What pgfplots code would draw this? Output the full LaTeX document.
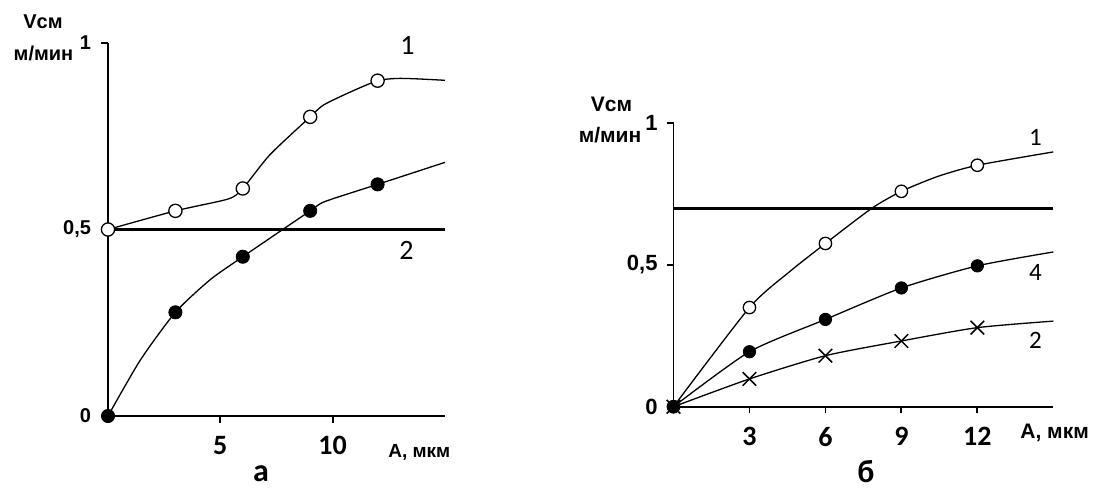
\documentclass[border=0pt]{standalone}
\usepackage{fontspec}
\setmainfont{Liberation Sans}
\newfontfamily\carl{Carlito}
\usepackage{pgfplots}
\pgfplotsset{compat=1.18}
\begin{document}
\begin{tikzpicture}[x=1pt,y=1pt]
\useasboundingbox (0,0) rectangle (549,244);
% ---------- chart a ----------
\begin{axis}[
  at={(54pt,36pt)}, anchor=south west,
  scale only axis, width=168.5pt, height=186.5pt,
  xmin=0, xmax=15, ymin=0, ymax=1,
  axis lines=left, axis line style={-, line width=0.9pt},
  tick align=outside, major tick length=3.3pt,
  tick style={line width=0.9pt, black},
  xtick={5,10}, xticklabels={5,10},
  ytick={0,0.5,1}, yticklabels={0,{0,5},1},
  xticklabel style={font=\carl\bfseries\fontsize{14}{14}\selectfont, anchor=north, inner sep=0pt},
  xticklabel shift=6.7pt,
  yticklabel style={font=\bfseries\fontsize{10}{10}\selectfont, anchor=east, inner sep=0pt},
  yticklabel shift=5pt,
  clip=false,
]
\addplot[line width=1.7pt] coordinates {(0,0.5) (15,0.5)};
\addplot[line width=0.65pt, smooth, tension=0.4] coordinates {
 (0,0.5) (3,0.55) (5.36,0.582) (6,0.61) (7.2,0.70) (9,0.802) (9.6,0.834) (10.8,0.869) (12,0.899) (12.85,0.905) (13.7,0.904) (15,0.90)};
\addplot[only marks, mark=*, mark size=3.3pt, mark options={fill=white, draw=black, line width=0.65pt}] coordinates {
 (0,0.5) (3,0.55) (6,0.61) (9,0.802) (12,0.899)};
\addplot[line width=0.65pt, smooth, tension=0.4] coordinates {
 (0,0) (1.44,0.15) (3,0.278) (4.54,0.365) (6,0.427) (9,0.55) (9.66,0.575) (12,0.621) (15,0.68)};
\addplot[only marks, mark=*, mark size=3.3pt, mark options={fill=black, draw=black}] coordinates {
 (0,0) (3,0.278) (6,0.427) (9,0.55) (12,0.621)};
\node[font=\carl\fontsize{14}{14}\selectfont] at (axis cs:13.33,0.992) {1};
\node[font=\carl\fontsize{14}{14}\selectfont] at (axis cs:13.29,0.445) {2};
\end{axis}
\node[anchor=base west, inner sep=0pt, font=\bfseries\fontsize{9.5}{10}\selectfont] at (194,15.2) {A, мкм};
\node[anchor=base, inner sep=0pt, font=\bfseries\fontsize{10}{10}\selectfont] at (21.5,229.5) {Vсм};
\node[anchor=base, inner sep=0pt, font=\bfseries\fontsize{10}{10}\selectfont] at (21.75,213.5) {м/мин};
\node[anchor=base, inner sep=0pt, font=\carl\bfseries\fontsize{16}{16}\selectfont] at (130.5,3.5) {а};
% ---------- chart b ----------
\begin{axis}[
  at={(336.75pt,40.65pt)}, anchor=south west,
  scale only axis, width=189.9pt, height=141.7pt,
  xmin=0, xmax=15, ymin=0, ymax=1,
  axis lines=left, axis line style={-, line width=0.9pt},
  tick align=outside, major tick length=3.3pt,
  tick style={line width=0.9pt, black},
  xtick={3,6,9,12}, xticklabels={3,6,9,12},
  ytick={0,0.5,1}, yticklabels={0,{0,5},1},
  xticklabel style={font=\carl\bfseries\fontsize{14}{14}\selectfont, anchor=north, inner sep=0pt},
  xticklabel shift=6.7pt,
  yticklabel style={font=\bfseries\fontsize{11}{11}\selectfont, anchor=east, inner sep=0pt},
  yticklabel shift=4.5pt,
  clip=false,
]
\addplot[line width=1.5pt] coordinates {(0,0.7) (15,0.7)};
\addplot[line width=0.65pt, smooth, tension=0.4] coordinates {
 (0,0) (3,0.35) (4.58,0.476) (6,0.576) (7.83,0.70) (9,0.76) (10.45,0.813) (12,0.852) (15,0.899)};
\addplot[only marks, mark=*, mark size=3.1pt, mark options={fill=white, draw=black, line width=0.65pt}] coordinates {
 (0,0) (3,0.35) (6,0.576) (9,0.76) (12,0.852)};
\addplot[line width=0.65pt, smooth, tension=0.4] coordinates {
 (0,0) (3,0.098) (6,0.18) (9,0.232) (12,0.279) (15,0.302)};
\addplot[only marks, mark=x, mark size=4.8pt, mark options={draw=black, line width=0.75pt}] coordinates {
 (0,0) (3,0.098) (6,0.18) (9,0.232) (12,0.279)};
\addplot[line width=0.65pt, smooth, tension=0.4] coordinates {
 (0,0) (3,0.194) (6,0.308) (9,0.419) (12,0.497) (15,0.546)};
\addplot[only marks, mark=*, mark size=3.1pt, mark options={fill=black, draw=black}] coordinates {
 (0,0) (3,0.194) (6,0.308) (9,0.419) (12,0.497)};
\node[font=\carl\fontsize{12.5}{12.5}\selectfont] at (axis cs:14.3,0.95) {1};
\node[font=\carl\fontsize{12.5}{12.5}\selectfont] at (axis cs:14.3,0.474) {4};
\node[font=\carl\fontsize{12.5}{12.5}\selectfont] at (axis cs:14.3,0.235) {2};
\end{axis}
\node[anchor=base west, inner sep=0pt, font=\bfseries\fontsize{10.5}{11}\selectfont] at (510,24.65) {A, мкм};
\node[anchor=base, inner sep=0pt, font=\bfseries\fontsize{10.5}{11}\selectfont] at (305.75,188) {Vсм};
\node[anchor=base, inner sep=0pt, font=\bfseries\fontsize{10.5}{11}\selectfont] at (305,172.5) {м/мин};
\node[anchor=base, inner sep=0pt, font=\carl\bfseries\fontsize{16}{16}\selectfont] at (433,3) {б};
\end{tikzpicture}
\end{document}
